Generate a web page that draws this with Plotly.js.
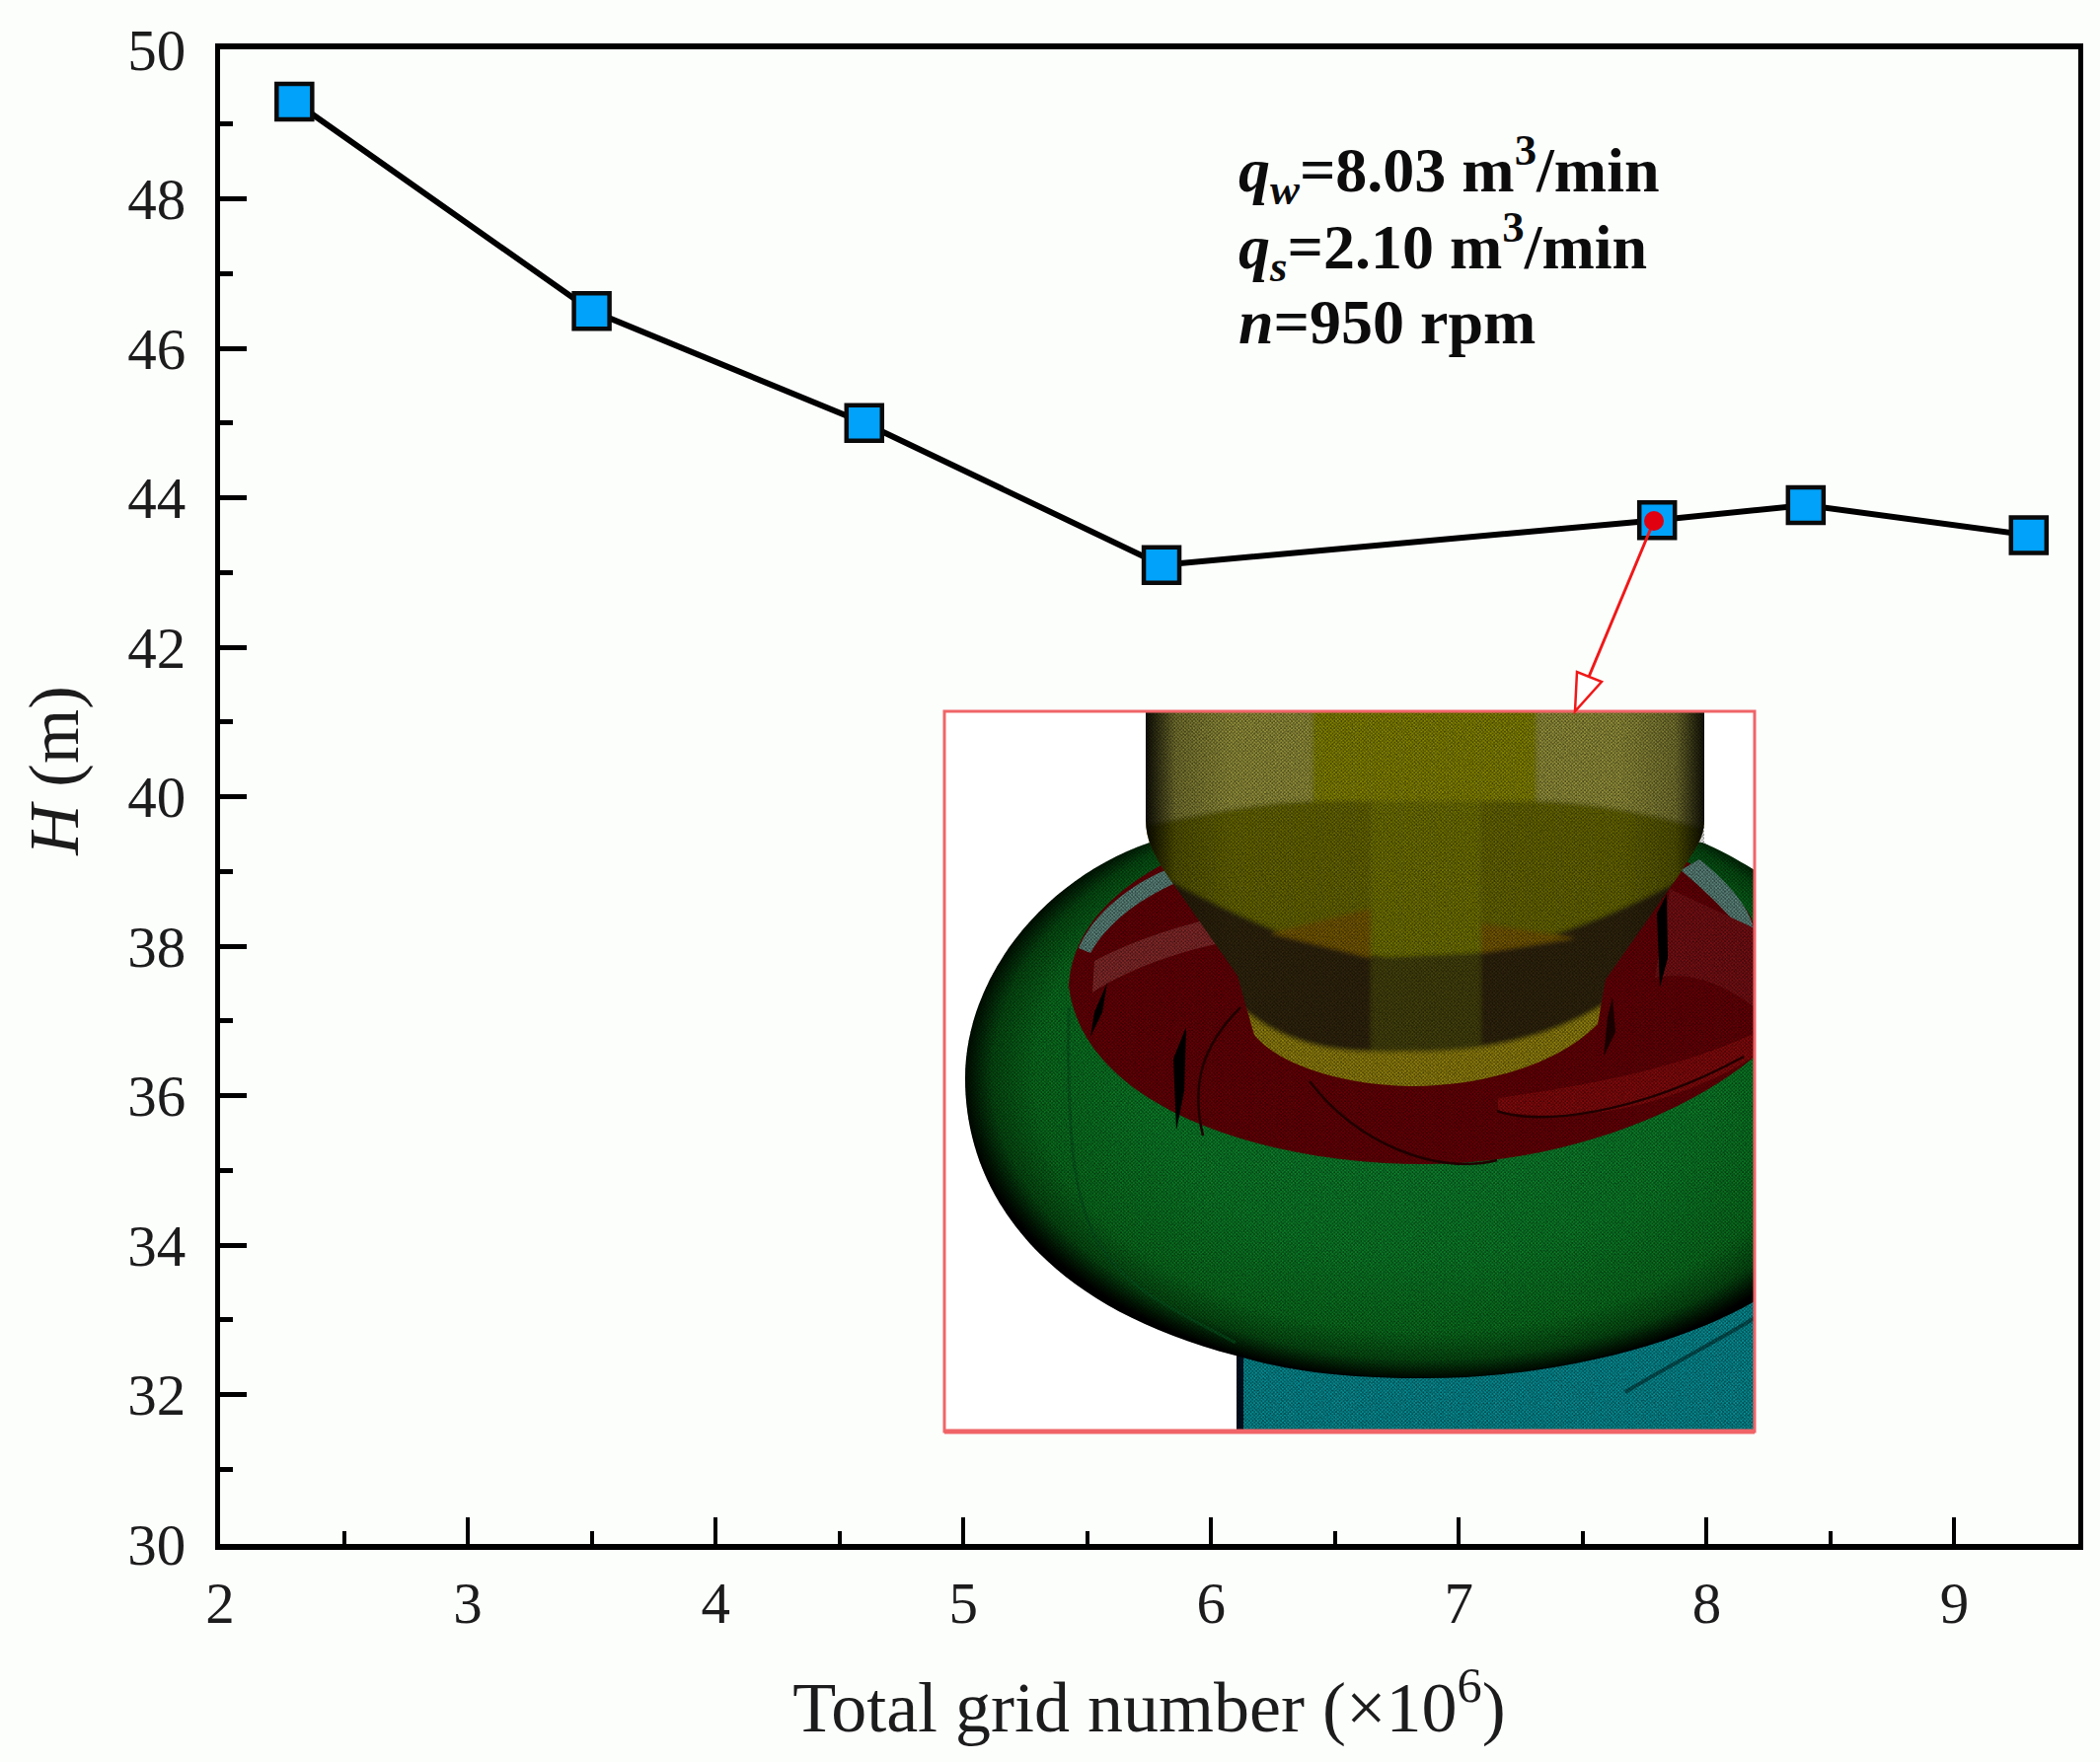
<!DOCTYPE html>
<html>
<head>
<meta charset="utf-8">
<script src="https://cdn.plot.ly/plotly-3.0.1.min.js"></script>
<style>html,body{margin:0;padding:0;background:#fff}</style>
</head>
<body>
<div id="chart" style="width:2128px;height:1786px"></div>
<script>
const gridNumber = [2.3, 3.5, 4.6, 5.8, 7.8, 8.4, 9.3];
const head = [49.3, 46.5, 45.0, 43.1, 43.7, 43.9, 43.5];
const xTitle = "Total grid number (×10<sup>6</sup>)";
const yTitle = "&nbsp;&nbsp;&nbsp;<i>H</i> (m)";
const noteLines = [
  "<b><i>q<sub>w</sub></i>=8.03 m<sup>3</sup>/min</b>",
  "<b><i>q<sub>s</sub></i>=2.10 m<sup>3</sup>/min</b>",
  "<b><i>n</i>=950 rpm</b>"
];

const W = 2128, H = 1786;
const L = 223, R = 2106, T = 50, B = 1565;
const X0 = 2, X1 = 9.5, Y0 = 30, Y1 = 50;
const dx = px => X0 + (px - L) / (R - L) * (X1 - X0);
const dy = py => Y0 + (B - py) / (B - T) * (Y1 - Y0);

/* Inset mesh illustration, in its own local coordinates */
const inset = `<svg xmlns="http://www.w3.org/2000/svg" width="821" height="730" viewBox="0 0 821 730">
<defs>
<radialGradient id="g" gradientUnits="userSpaceOnUse" cx="0" cy="0" r="1.01" gradientTransform="translate(490 368) scale(470 308)">
<stop offset="0" stop-color="#0f8a34"/><stop offset=".6" stop-color="#0c8229"/><stop offset=".84" stop-color="#0a731f"/><stop offset=".93" stop-color="#064f12"/><stop offset=".98" stop-color="#011503"/><stop offset="1" stop-color="#000"/></radialGradient>
<linearGradient id="edge" x1="0" x2="1" y1="0" y2="0">
<stop offset="0" stop-color="#000" stop-opacity="1"/><stop offset=".06" stop-color="#000" stop-opacity=".2"/><stop offset=".16" stop-color="#000" stop-opacity="0"/><stop offset=".84" stop-color="#000" stop-opacity="0"/><stop offset=".94" stop-color="#000" stop-opacity=".2"/><stop offset="1" stop-color="#000" stop-opacity="1"/></linearGradient>
<pattern id="mesh" width="3.6" height="3.6" patternUnits="userSpaceOnUse">
<circle cx="1" cy="1" r=".9" fill="#000" fill-opacity=".48"/><circle cx="2.8" cy="2.8" r=".9" fill="#000" fill-opacity=".48"/></pattern>
<filter id="noise" x="0" y="0" width="100%" height="100%">
<feTurbulence type="fractalNoise" baseFrequency=".6" numOctaves="2" seed="4"/>
<feColorMatrix values="0 0 0 0 0  0 0 0 0 0  0 0 0 0 0  1.6 0 0 0 -.6"/></filter>
<filter id="soft" x="-5%" y="-5%" width="110%" height="110%"><feGaussianBlur stdDeviation="2.2"/></filter>
<clipPath id="yc"><path d="M204,0 L770,0 L770,110 C770,130 760,140 745,165 L670,272 L662,317 C620,360 540,380 477,380 C410,380 340,360 314,328 L305,297 L297,268 L225,165 C212,145 204,130 204,110 Z"/></clipPath>
<clipPath id="all"><path d="M204,0 L770,0 L770,133 L821,161 L821,730 L296,730 L296,653 C90,600 21,480 21,372 C21,270 100,170 208,133 L204,110 Z"/></clipPath>
</defs>
<rect width="821" height="730" fill="#fff"/>
<path d="M296,640 L821,590 L821,730 L296,730 Z" fill="#06939a"/>
<path d="M296,650 L296,730 L303,730 L303,650 Z" fill="#012"/>
<path d="M690,690 C740,660 780,640 821,615" stroke="#035558" stroke-width="4" fill="none"/>
<path d="M208,133 C100,170 21,270 21,372 C21,480 90,600 295,653 C360,672 420,676 488,676 C620,676 750,640 821,598 L821,161 C800,148 785,140 768,133 Z" fill="url(#g)"/>
<path d="M126,300 C124,430 130,500 160,545 C190,590 240,610 295,640" fill="none" stroke="#055a20" stroke-width="3" opacity=".7"/>
<path d="M126,278 C130,210 190,170 235,148 L745,148 C790,175 821,200 821,223 L821,350 C750,410 620,459 488,459 C320,459 140,400 126,278 Z" fill="#6c0006"/>
<path d="M136,240 C150,205 190,175 224,161 L232,175 C195,192 165,215 148,245 Z" fill="#5f8a80"/>
<path d="M746,161 L765,150 C790,170 815,195 821,223 L821,240 C805,215 775,185 746,161 Z" fill="#5f8a80"/>
<path d="M152,253 C185,235 225,222 262,212 L280,235 C230,245 180,265 150,285 Z" fill="#8a2a2a"/>
<path d="M735,180 L821,220 L821,300 C780,270 750,265 720,270 Z" fill="#7c1014"/>
<path d="M561,392 C650,380 750,360 819,327 L821,350 C740,400 640,420 561,405 Z" fill="#8a0a0c"/>
<path d="M152,305 L165,275 L160,305 L148,330 Z" fill="#000"/>
<path d="M232,352 L245,320 L243,385 L235,425 Z" fill="#000"/>
<path d="M722,205 L732,185 L733,250 L725,280 Z" fill="#000"/>
<path d="M672,310 L677,290 L680,325 L668,350 Z" fill="#200"/>
<path d="M262,430 C250,380 260,340 300,300" fill="none" stroke="#2a0000" stroke-width="2.5"/>
<path d="M370,375 C420,440 500,470 560,455 M560,405 C600,420 700,410 810,350" fill="none" stroke="#2a0000" stroke-width="2.5"/>
<g clip-path="url(#yc)">
<g filter="url(#soft)">
<rect x="190" y="-10" width="185" height="135" fill="#9a973e"/>
<rect x="373" y="-10" width="228" height="135" fill="#8a8a00"/>
<rect x="600" y="-10" width="185" height="135" fill="#9a973e"/>
<path d="M190,118 C280,100 330,92 373,91 L600,91 C660,92 720,105 785,122 L785,300 L190,300 Z" fill="#6c6c00"/>
<rect x="432" y="91" width="112" height="170" fill="#767800"/>
<path d="M190,150 C320,225 400,250 477,250 C570,250 670,215 785,150 L785,400 L190,400 Z" fill="#33280a"/>
<path d="M432,250 L544,245 L544,360 L432,360 Z" fill="#46440a"/>
<path d="M330,225 L432,200 L432,250 Z M544,215 L640,230 L544,245 Z" fill="#7a5c00"/>
<path d="M300,300 C360,350 420,345 477,345 C550,345 620,330 680,290 L680,400 L300,400 Z" fill="#968508"/>
</g>
<rect x="200" y="0" width="575" height="400" fill="url(#edge)"/>
</g>
<g clip-path="url(#all)">
<rect width="821" height="730" fill="url(#mesh)"/>
<rect width="821" height="730" filter="url(#noise)" opacity=".4"/>
</g>
</svg>`;
const insetSrc = "data:image/svg+xml;charset=utf-8," + encodeURIComponent(inset);

const serif = "'Liberation Serif', 'Times New Roman', serif";
const ink = "#1c1c1c";
const red = "#f01818";

const trace = {
  x: gridNumber, y: head, type: "scatter", mode: "lines+markers",
  line: {color: "#000", width: 6},
  marker: {symbol: "square", size: 36, color: "#00a2fa", line: {color: "#0a0a0a", width: 4.5}},
  hoverinfo: "skip", showlegend: false, cliponaxis: false
};

const layout = {
  width: W, height: H, autosize: false,
  margin: {l: L, r: W - R, t: T, b: H - B, pad: 0},
  paper_bgcolor: "#fcfefc", plot_bgcolor: "#fcfefc",
  font: {family: serif, color: ink, size: 59},
  showlegend: false,
  xaxis: {
    range: [X0, X1], tickmode: "linear", tick0: 2, dtick: 1,
    ticks: "inside", ticklen: 27, tickwidth: 4, tickcolor: "#000",
    minor: {dtick: 0.5, ticks: "inside", ticklen: 13, tickwidth: 4, tickcolor: "#000", showgrid: false},
    showgrid: false, zeroline: false, showline: true, mirror: true, linecolor: "#000", linewidth: 6,
    ticklabelstandoff: 3,
    tickfont: {family: serif, size: 59, color: ink},
    title: {text: xTitle, font: {family: serif, size: 72, color: ink}, standoff: 50}
  },
  yaxis: {
    range: [Y0, Y1], tickmode: "linear", tick0: 30, dtick: 2,
    ticks: "inside", ticklen: 27, tickwidth: 5, tickcolor: "#000",
    minor: {dtick: 1, ticks: "inside", ticklen: 13, tickwidth: 5, tickcolor: "#000", showgrid: false},
    showgrid: false, zeroline: false, showline: true, mirror: true, linecolor: "#000", linewidth: 5,
    ticklabelstandoff: 18,
    tickfont: {family: serif, size: 59, color: ink},
    title: {text: yTitle, font: {family: serif, size: 71, color: ink}, standoff: 28}
  },
  images: [{
    source: insetSrc, xref: "x", yref: "y", layer: "above",
    x: dx(957), y: dy(721), sizex: dx(1778) - dx(957), sizey: dy(721) - dy(1451),
    sizing: "stretch", xanchor: "left", yanchor: "top"
  }],
  shapes: [
    {type: "rect", xref: "x", yref: "y", x0: dx(957), x1: dx(1778), y0: dy(721), y1: dy(1451),
     line: {color: "#f06468", width: 3}, fillcolor: "rgba(0,0,0,0)"},
    {type: "line", xref: "x", yref: "y", x0: dx(957), x1: dx(1778), y0: dy(1451), y1: dy(1451),
     line: {color: "#f06468", width: 5}},
    {type: "line", xref: "x", yref: "y", x0: dx(1676), y0: dy(528), x1: dx(1610), y1: dy(686),
     line: {color: red, width: 3}},
    {type: "path", xref: "x", yref: "y",
     path: `M ${dx(1596)} ${dy(721)} L ${dx(1598)} ${dy(681)} L ${dx(1623)} ${dy(691)} Z`,
     line: {color: red, width: 2.5}, fillcolor: "#ffffff"},
    {type: "circle", xref: "x", yref: "y", x0: dx(1666), x1: dx(1686), y0: dy(518), y1: dy(538),
     line: {width: 0}, fillcolor: "#e00010"}
  ],
  annotations: noteLines.map((t, i) => ({
    text: t, xref: "x", yref: "y", x: dx(1253), y: dy([219, 297, 364][i]),
    xanchor: "left", yanchor: "bottom", showarrow: false, align: "left",
    font: {family: serif, size: 64, color: "#0c0c0c"}
  }))
};

Plotly.newPlot("chart", [trace], layout, {displayModeBar: false, staticPlot: true});
</script>
</body>
</html>
